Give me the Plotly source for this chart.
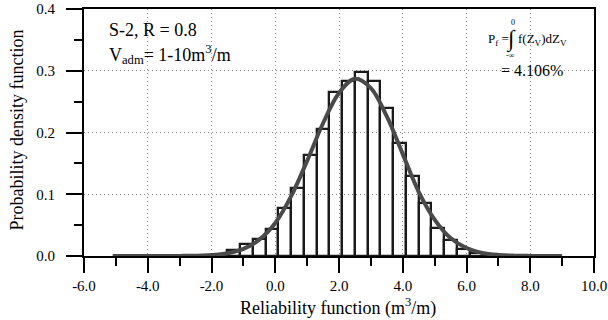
import plotly.graph_objects as go

# Histogram (bin width 0.4)
bin_centers = [-1.7, -1.3, -0.9, -0.5, -0.1, 0.3, 0.7, 1.1, 1.5, 1.9, 2.3, 2.7,
               3.1, 3.5, 3.9, 4.3, 4.7, 5.1, 5.5, 5.9, 6.3, 6.7]
bin_heights = [0.002, 0.010, 0.020, 0.028, 0.044, 0.077, 0.110, 0.164, 0.206, 0.265, 0.284, 0.298,
               0.283, 0.239, 0.183, 0.130, 0.086, 0.045, 0.026, 0.012, 0.005, 0.002]
bin_width = 0.4

# Fitted PDF curve
curve_x = [-5.1, -4.5, -4.0, -3.5, -3.0, -2.5, -2.0, -1.5, -1.0, -0.5, 0.0, 0.5, 1.0, 1.5,
           2.0, 2.5, 3.0, 3.5, 4.0, 4.5, 5.0, 5.5, 6.0, 6.5, 7.0, 7.5, 8.0, 8.5, 9.0]
curve_y = [0.0, 0.0, 0.0, 0.0, 0.0002, 0.0005, 0.0015, 0.0045, 0.0115, 0.0265, 0.0535, 0.097,
           0.154, 0.215, 0.264, 0.287, 0.272, 0.226, 0.165, 0.104, 0.059, 0.029, 0.013,
           0.005, 0.0018, 0.0006, 0.0002, 0.0, 0.0]

x_ticks = [-6, -4, -2, 0, 2, 4, 6, 8, 10]
x_tick_labels = ["-6.0", "-4.0", "-2.0", "0.0", "2.0", "4.0", "6.0", "8.0", "10.0"]
y_ticks = [0.0, 0.1, 0.2, 0.3, 0.4]
y_tick_labels = ["0.0", "0.1", "0.2", "0.3", "0.4"]

FONT = "Liberation Serif"

fig = go.Figure()
fig.add_trace(go.Scatter(x=curve_x, y=curve_y, mode="lines",
                         line=dict(color="#4a4a4a", width=4, shape="spline"),
                         showlegend=False, hoverinfo="skip"))
fig.add_trace(go.Bar(x=bin_centers, y=bin_heights, width=bin_width,
                     marker=dict(color="rgba(0,0,0,0)", line=dict(color="#1a1a1a", width=2.3)),
                     showlegend=False))

axis_common = dict(showline=True, linecolor="black", linewidth=2, mirror=True,
                   ticks="outside", tickwidth=2, tickcolor="black", automargin=False,
                   showgrid=True, gridcolor="#8a8a8a", gridwidth=1, griddash="1px,3px",
                   zeroline=False, tickfont=dict(family=FONT, size=15, color="black"))

fig.update_xaxes(range=[-6, 10], tickvals=x_ticks, ticktext=x_tick_labels, ticklen=15,
                 ticklabelstandoff=0,
                 minor=dict(dtick=1, ticklen=8, tickwidth=2, tickcolor="black",
                            ticks="outside", showgrid=False),
                 **axis_common)
fig.update_yaxes(range=[0, 0.4], tickvals=y_ticks, ticktext=y_tick_labels, ticklen=16,
                 ticklabelstandoff=8,
                 minor=dict(dtick=0.05, ticklen=8, tickwidth=2, tickcolor="black",
                            ticks="outside", showgrid=False),
                 **axis_common)

ann = []
# axis titles
ann.append(dict(text="Reliability function (m<sup>3</sup>/m)", xref="paper", yref="paper",
                x=0.499, y=-0.207, xanchor="center", yanchor="middle", showarrow=False,
                font=dict(family=FONT, size=18, color="black")))
ann.append(dict(text="Probability density function", xref="paper", yref="paper",
                x=-0.131, y=0.509, xanchor="center", yanchor="middle", textangle=-90,
                showarrow=False, font=dict(family=FONT, size=18, color="black")))
# case labels
ann.append(dict(text="S-2, R = 0.8", x=-5.28, y=0.3653, xanchor="left", yanchor="middle",
                showarrow=False, font=dict(family=FONT, size=18, color="black")))
ann.append(dict(text="V<sub>adm</sub>= 1-10m<sup>3</sup>/m", x=-5.28, y=0.327, xanchor="left",
                yanchor="middle", showarrow=False, font=dict(family=FONT, size=18, color="black")))
# formula
ann.append(dict(text="P<sub>f</sub> =", x=6.60, y=0.3502, xanchor="left", yanchor="middle",
                showarrow=False, font=dict(family=FONT, size=13, color="black")))
ann.append(dict(text="∫", x=7.40, y=0.3502, xanchor="center", yanchor="middle",
                showarrow=False, font=dict(family=FONT, size=23, color="black")))
ann.append(dict(text="0", x=7.46, y=0.3775, xanchor="center", yanchor="middle",
                showarrow=False, font=dict(family=FONT, size=8, color="black")))
ann.append(dict(text="-∞", x=7.38, y=0.3245, xanchor="center", yanchor="middle",
                showarrow=False, font=dict(family=FONT, size=8, color="black")))
ann.append(dict(text="= 4.106%", x=7.02, y=0.301, xanchor="left", yanchor="middle",
                showarrow=False, font=dict(family=FONT, size=16, color="black")))
ann.append(dict(text="f(Z<sub>V</sub>)dZ<sub>V</sub>", x=7.55, y=0.3502, xanchor="left",
                yanchor="middle", showarrow=False, font=dict(family=FONT, size=13, color="black")))

fig.update_layout(width=608, height=320, margin=dict(l=84, r=14, t=9, b=64, autoexpand=False),
                  plot_bgcolor="white", paper_bgcolor="white", bargap=0,
                  annotations=ann, font=dict(family=FONT))

fig.write_html("out.html", config={"displayModeBar": False},
               post_script="document.body.style.margin='0px';")
